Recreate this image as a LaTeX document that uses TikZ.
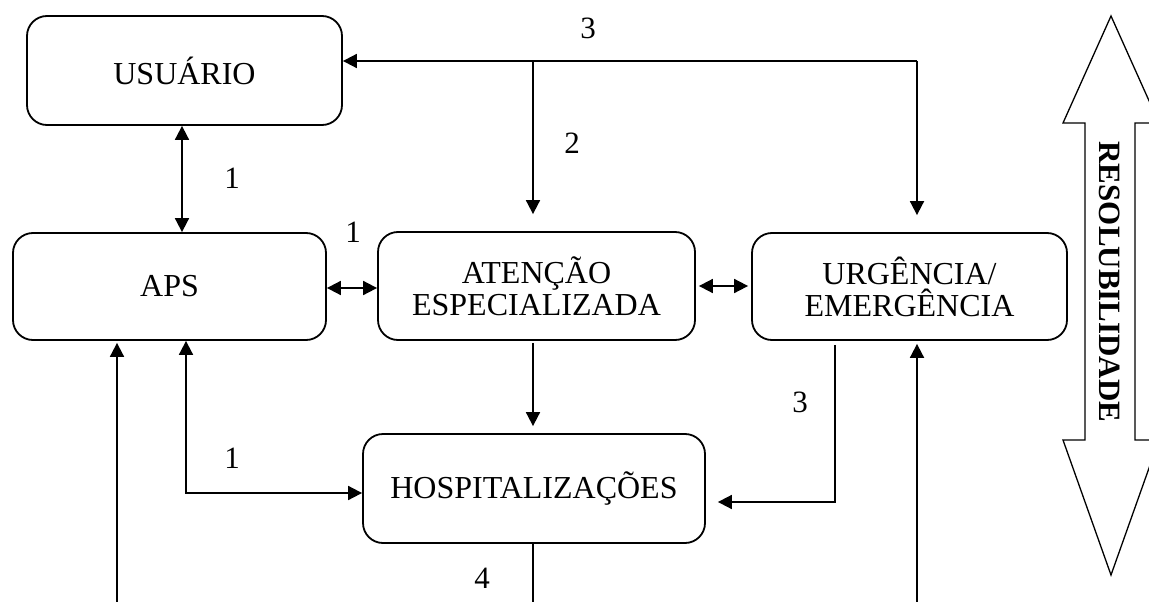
\documentclass[tikz,border=0pt]{standalone}
\usepackage{fontspec}
\setmainfont{Liberation Serif}
\usetikzlibrary{arrows.meta}
\begin{document}
\begin{tikzpicture}[x=1pt,y=-1pt,
  box/.style={draw,line width=1.8pt,rounded corners=20pt,align=center,inner sep=0pt,
    font=\fontsize{32}{32}\selectfont},
  lbl/.style={font=\fontsize{31}{32}\selectfont,inner sep=0pt},
  conn/.style={line width=1.8pt,-{Triangle[length=14pt,width=14pt]}},
  dconn/.style={line width=1.8pt,{Triangle[length=14pt,width=14pt]}-{Triangle[length=14pt,width=14pt]}},
  plain/.style={line width=1.8pt}]
\useasboundingbox (0,0) rectangle (1149,602);
\clip (0,0) rectangle (1149,602);
% boxes
\node[box,minimum width=315pt,minimum height=109pt] (usu) at (184.5,70.5) {USUÁRIO};
\node[box,minimum width=313pt,minimum height=107pt] (aps) at (169.5,286.5) {APS};
\node[box,minimum width=317pt,minimum height=108pt] (ate) at (536.5,286) {ATENÇÃO\\ESPECIALIZADA};
\node[box,minimum width=315pt,minimum height=107pt] (urg) at (909.5,286.5) {URGÊNCIA/\\EMERGÊNCIA};
\node[box,minimum width=342pt,minimum height=109pt] (hosp) at (534,488.5) {HOSPITALIZAÇÕES};
% coordinates
\coordinate (tr) at (917,61);
\coordinate (tm) at (533,61);
\coordinate (bl) at (186,493);
\coordinate (br) at (835,502);
\coordinate (e1) at (117,602);
\coordinate (e2) at (533,602);
\coordinate (e3) at (917,602);
% connectors
\draw[dconn] (usu.south -| 182,0) -- (aps.north -| 182,0);
\draw[conn] (tr) -- (usu.east |- tr);
\draw[conn,shorten >=17pt] (tr) -- (urg.north -| tr);
\draw[conn,shorten >=17pt] (tm) -- (ate.north -| tm);
\draw[dconn] (aps.east |- 0,288) -- (ate.west |- 0,288);
\draw[dconn,shorten <=3pt,shorten >=3pt] (ate.east |- 0,286) -- (urg.west |- 0,286);
\draw[conn,shorten <=2pt,shorten >=7pt] (ate.south -| 533,0) -- (hosp.north -| 533,0);
\draw[dconn] (aps.south -| bl) -- (bl) -- (hosp.west |- bl);
\draw[conn,shorten <=4pt,shorten >=12pt] (urg.south -| br) -- (br) -- (hosp.east |- br);
\draw[plain] (hosp.south -| e2) -- (e2);
\draw[conn,shorten >=2pt] (e1) -- (aps.south -| e1);
\draw[conn,shorten >=3pt] (e3) -- (urg.south -| e3);
% labels
\node[lbl] (l1) at (232,178) {1};
\node[lbl] (l2) at (353,232) {1};
\node[lbl] (l3) at (572,143) {2};
\node[lbl] (l4) at (588,28) {3};
\node[lbl] (l5) at (800,402) {3};
\node[lbl] (l6) at (232,458) {1};
\node[lbl] (l7) at (482,578) {4};
% big double arrow
\draw[line width=1.3pt,line join=miter]
  (1111,16) -- (1159,123) -- (1135,123) -- (1135,440) -- (1159,440) -- (1111,575)
  -- (1063,440) -- (1085,440) -- (1085,123) -- (1063,123) -- cycle;
\node[rotate=-90,inner sep=0pt,font=\fontsize{31}{31}\selectfont\bfseries] (res) at (1110,282)
  {RESOLUBILIDADE};
\end{tikzpicture}
\end{document}
